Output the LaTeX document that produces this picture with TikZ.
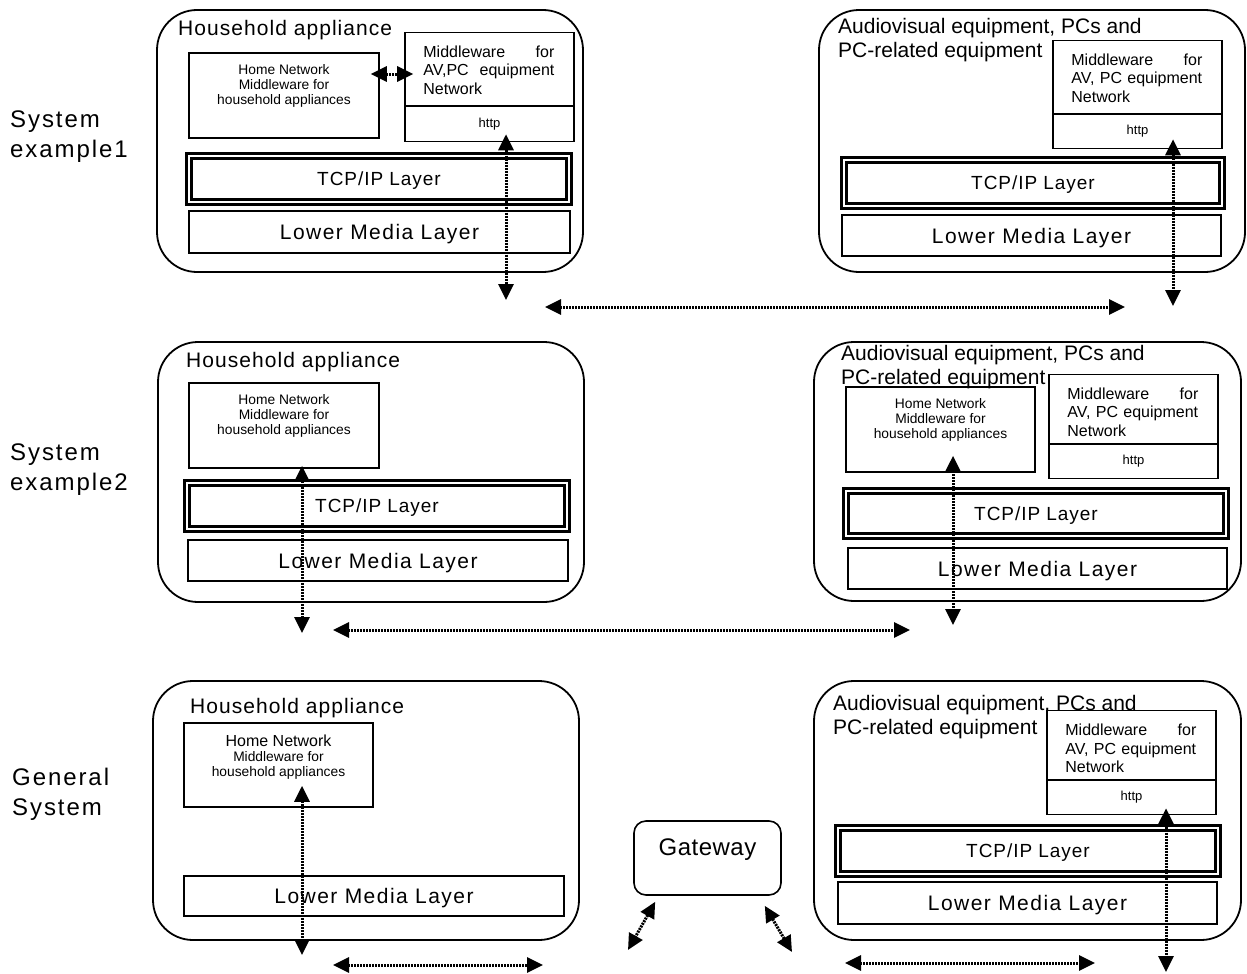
\documentclass[tikz,border=0pt]{standalone}
\usepackage{fontspec}
\setmainfont{Liberation Sans}
\usetikzlibrary{arrows.meta,positioning}
\newcommand\trk[1]{\addfontfeature{LetterSpace=#1}}

\begin{document}
\begin{tikzpicture}[x=1pt,y=-1pt,
    sz/.style 2 args={minimum width=#1pt,minimum height=#2pt},
    group/.style={draw,line width=1.8pt,rounded corners=40pt,inner sep=0pt},
    layer/.style={draw,line width=1.6pt,inner sep=0pt},
    tcp/.style={draw,line width=2.6pt,double,double distance=2.6pt,inner sep=0pt,text depth=0pt,
      font=\fontsize{19}{20}\selectfont\trk{5}},
    lower/.style={layer,text depth=0pt,font=\fontsize{21}{22}\selectfont\trk{7}},
    title/.style={inner sep=0pt,anchor=base west,font=\fontsize{21}{24}\selectfont\trk{5}},
    avtitle/.style={inner sep=0pt,anchor=north west,align=left,font=\fontsize{21}{24.5}\selectfont},
    hntext/.style={inner sep=0pt,anchor=north,align=center,font=\fontsize{13.8}{15}\selectfont},
    mwtext/.style={inner sep=0pt,anchor=north west,align=left,text width=131pt,
      font=\fontsize{16}{18.5}\selectfont},
    http/.style={layer,font=\fontsize{13}{15}\selectfont},
    side/.style={inner sep=0pt,anchor=north west,align=left,font=\fontsize{24}{30}\selectfont\trk{8}},
    link/.style={{Triangle[length=16pt,width=15pt]}-{Triangle[length=16pt,width=15pt]},
      line width=3pt,dash pattern=on 2pt off 1pt}]
  \useasboundingbox (0,0) rectangle (1247,974);

  \node[side] (s1) at (10,111) {System\\example1};
  \node[side] (s2) at (10,443.5) {System\\example2};
  \node[side] (s3) at (12,767.5) {General\\System};

  % system example 1
  \node[group,sz={426}{262}] (ha1) at (370,141) {};
  \node[title] (ha1t) at (178,36) {Household appliance};
  \node[layer,sz={190}{85}] (hn1) at (284,95.5) {};
  \node[hntext,below=12.5pt of hn1.north] (hn1t) {Home Network\\Middleware for\\household appliances};
  \node[layer,sz={169}{73}] (mw1) at (489.5,69) {};
  \node[mwtext,below right=14pt and 19pt of mw1.north west] (mw1t) {Middleware\hfill for\\AV,PC\hfill equipment\\Network};
  \node[http,sz={169}{35}] (http1) at (489.5,124) {http};
  \node[tcp,sz={380}{46}] (tcp1) at (379,179) {TCP/IP Layer};
  \node[lower,sz={381}{42}] (lm1) at (379.5,232) {Lower Media Layer};

  \node[group,sz={426}{262}] (av1) at (1032,141) {};
  \node[avtitle] (av1t) at (838,18) {Audiovisual equipment, PCs and\\PC-related equipment};
  \node[layer,sz={169}{73}] (mw2) at (1137.5,77) {};
  \node[mwtext,below right=14pt and 19pt of mw2.north west] (mw2t) {Middleware\hfill for\\AV, PC equipment\\Network};
  \node[http,sz={169}{34}] (http2) at (1137.5,131.5) {http};
  \node[tcp,sz={378}{46}] (tcp2) at (1033,183) {TCP/IP Layer};
  \node[lower,sz={379}{41}] (lm2) at (1031.5,235.5) {Lower Media Layer};

  \coordinate (e1) at (506,300);
  \coordinate (e2) at (1173,306);
  \coordinate (h1a) at (545,307);
  \coordinate (h1b) at (1125,307);
  \draw[link] ([shift={(-9,-21.5)}]hn1.east) -- ([shift={(9,5)}]mw1.west);
  \draw[link] ([shift={(16.5,-8)}]http1.south) -- (e1);
  \draw[link] ([shift={(35.5,-10)}]http2.south) -- (e2);
  \draw[link] (h1a) -- (h1b);

  % system example 2
  \node[group,sz={426}{260}] (ha2) at (371,472) {};
  \node[title] (ha2t) at (186,367) {Household appliance};
  \node[layer,sz={190}{85}] (hn2) at (284,425.5) {};
  \node[hntext,below=12.5pt of hn2.north] (hn2t) {Home Network\\Middleware for\\household appliances};
  \node[tcp,sz={380}{46}] (tcp3) at (377,506) {TCP/IP Layer};
  \node[lower,sz={380}{41}] (lm3) at (378,560.5) {Lower Media Layer};

  \node[group,sz={427}{259}] (av2) at (1027.5,471.5) {};
  \node[avtitle] (av2t) at (841,345) {Audiovisual equipment, PCs and\\PC-related equipment};
  \node[layer,sz={189}{85}] (hn3) at (940.5,429.5) {};
  \node[hntext,below=12.5pt of hn3.north] (hn3t) {Home Network\\Middleware for\\household appliances};
  \node[layer,sz={169}{69}] (mw3) at (1133.5,409) {};
  \node[mwtext,below right=14pt and 19pt of mw3.north west] (mw3t) {Middleware\hfill for\\AV, PC equipment\\Network};
  \node[http,sz={169}{34}] (http3) at (1133.5,461.5) {http};
  \node[tcp,sz={380}{45}] (tcp4) at (1036,513.5) {TCP/IP Layer};
  \node[lower,sz={379}{41}] (lm4) at (1037.5,568.5) {Lower Media Layer};

  \coordinate (e3) at (302,633);
  \coordinate (e4) at (953,625);
  \coordinate (h2a) at (333,630);
  \coordinate (h2b) at (910,630);
  \draw[link] ([shift={(18,-3)}]hn2.south) -- (e3);
  \draw[link] ([shift={(12.5,-17)}]hn3.south) -- (e4);
  \draw[link] (h2a) -- (h2b);

  % general system
  \node[group,sz={426}{259}] (ha3) at (366,810.5) {};
  \node[title] (ha3t) at (190,713) {Household appliance};
  \node[layer,sz={189}{84}] (hn4) at (278.5,765) {};
  \node[hntext,below=12.5pt of hn4.north] (hn4t) {{\fontsize{16}{17}\selectfont Home Network}\\Middleware for\\household appliances};
  \node[lower,sz={380}{40}] (lm5) at (374,896) {Lower Media Layer};

  \node[draw,line width=1.6pt,rounded corners=12pt,sz={147}{74}] (gw) at (707.5,858) {};
  \node[inner sep=0pt,below=18pt of gw.north,font=\fontsize{24}{26}\selectfont\trk{2}] (gwt) {Gateway};

  \node[group,sz={427}{259}] (av3) at (1027.5,810.5) {};
  \node[avtitle] (av3t) at (833,695) {Audiovisual equipment, PCs and\\PC-related equipment};
  \node[layer,sz={169}{69}] (mw4) at (1131.5,745) {};
  \node[mwtext,below right=14pt and 19pt of mw4.north west] (mw4t) {Middleware\hfill for\\AV, PC equipment\\Network};
  \node[http,sz={169}{34}] (http4) at (1131.5,797.5) {http};
  \node[tcp,sz={380}{46}] (tcp5) at (1028,851) {TCP/IP Layer};
  \node[lower,sz={379}{42}] (lm6) at (1027.5,903) {Lower Media Layer};

  \coordinate (e5) at (302,955);
  \coordinate (e6) at (1166,972);
  \coordinate (g1) at (628,950);
  \coordinate (g2) at (792,952);
  \coordinate (h3a) at (333,965);
  \coordinate (h3b) at (543,965);
  \coordinate (h4a) at (845,963);
  \coordinate (h4b) at (1095,963);
  \draw[link] ([shift={(23.5,-22)}]hn4.south) -- (e5);
  \draw[link] ([shift={(34.5,-7)}]http4.south) -- (e6);
  \draw[link] ([shift={(22,6)}]gw.south west) -- (g1);
  \draw[link] ([shift={(-17,10)}]gw.south east) -- (g2);
  \draw[link] (h3a) -- (h3b);
  \draw[link] (h4a) -- (h4b);
\end{tikzpicture}
\end{document}
